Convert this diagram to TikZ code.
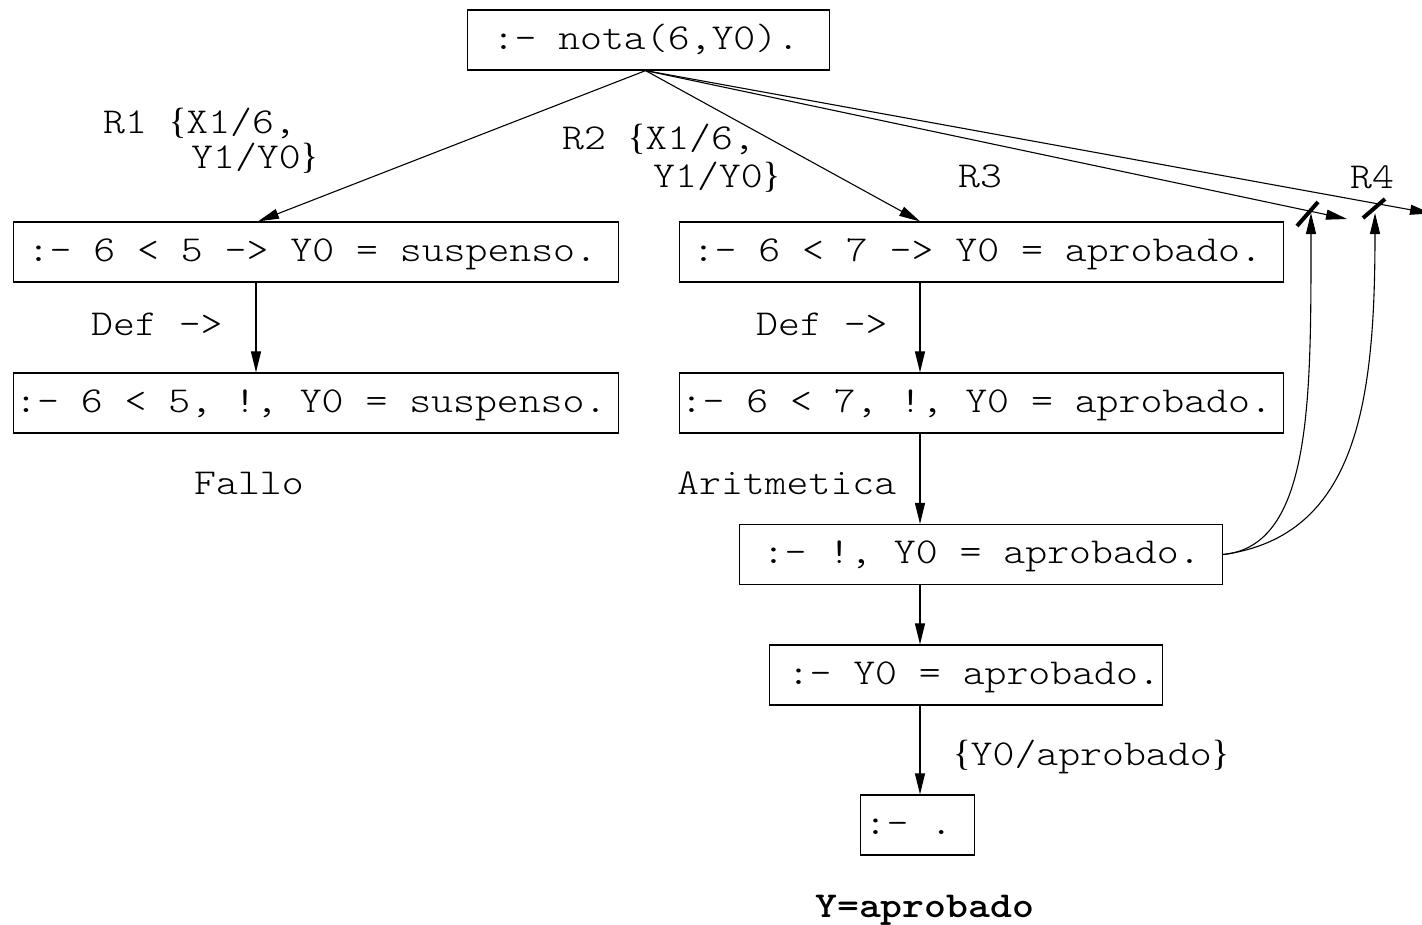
\documentclass[tikz,border=0pt]{standalone}
\usepackage{fontspec}
\setmainfont{lmmonolt10-regular}[Extension=.otf, BoldFont=lmmonolt10-bold, FakeStretch=1.143]
\newfontfamily\brfont{Liberation Serif}
\newcommand{\mylb}{{\brfont\{}}
\newcommand{\myrb}{{\brfont\}}}
\newcommand{\fixsp}{\spaceskip=0pt\xspaceskip=0pt\relax}
\usetikzlibrary{arrows.meta}
\tikzset{
  box/.style={draw, line width=1.2pt, minimum height=60pt, inner xsep=0pt, inner ysep=0pt,
              text height=24pt, text depth=6pt, align=left, anchor=west},
  lbl/.style={inner sep=0pt, anchor=base west},
  arr/.style={line width=1.1pt, -{Triangle[length=21pt,width=10pt]}},
  cut/.style={line width=4pt},
}
\begin{document}
\begin{tikzpicture}[x=1pt,y=-1pt,font=\fontsize{36.5pt}{44pt}\selectfont]
\useasboundingbox (0,0) rectangle (1422,924);

% boxes
\node[box, text width=362pt] (top) at (467,40) {\fixsp\hspace*{25pt}:- nota(6,Y0).};
\node[box, text width=605pt] (B1) at (13,252) {\fixsp\hspace*{14pt}:- 6 < 5 -> Y0 = suspenso.};
\node[box, text width=604pt] (B2) at (679,252) {\fixsp\hspace*{13pt}:- 6 < 7 -> Y0 = aprobado.};
\node[box, text width=605pt] (B3) at (13,403) {\fixsp\hspace*{1.5pt}:- 6 < 5, !, Y0 = suspenso.};
\node[box, text width=604pt] (B4) at (679,403) {\fixsp\hspace*{1pt}:- 6 < 7, !, Y0 = aprobado.};
\node[box, text width=483pt] (B5) at (739,554.5) {\fixsp\hspace*{23pt}:- !, Y0 = aprobado.};
\node[box, text width=393pt] (B6) at (769,675) {\fixsp\hspace*{18pt}:- Y0 = aprobado.};
\node[box, text width=114pt] (B7) at (860,825) {\fixsp\hspace*{4pt}:- .};

% labels
\node[lbl] (r1a) at (103,133) {R1 \mylb X1/6,};
\node[lbl] (r1b) at (191,168) {Y1/Y0\myrb};
\node[lbl] (r2a) at (562,149) {R2 \mylb X1/6,};
\node[lbl] (r2b) at (653,187) {Y1/Y0\myrb};
\node[lbl] (r3) at (958,187) {R3};
\node[lbl] (r4) at (1350,188) {R4};
\node[lbl] (def1) at (91,335) {Def ->};
\node[lbl] (def2) at (756,335) {Def ->};
\node[lbl] (fallo) at (194,494) {Fallo};
\node[lbl] (arit) at (677,494) {Aritmetica};
\node[lbl] (subst) at (953,765) {\mylb Y0/aprobado\myrb};
\node[lbl, font=\fontsize{36.5pt}{44pt}\selectfont\bfseries] (res) at (815,917) {Y=aprobado};

% helper coordinates
\coordinate (cL) at (256,0);
\coordinate (cR) at (920,0);
\coordinate (a1) at (258,0);
\coordinate (t1) at (1347,219);
\coordinate (t2) at (1431,213.5);
\coordinate (u1) at (1311,213);
\coordinate (u2) at (1375,213);
\coordinate (s1a) at (1297,226);
\coordinate (s1b) at (1318,202);
\coordinate (s2a) at (1363,218);
\coordinate (s2b) at (1385,199);

% connectors from the top goal
\draw[arr] ([xshift=-3pt]top.south) -- (B1.north -| a1);
\draw[arr] ([xshift=-3pt]top.south) -- (B2.north -| cR);
\draw[arr] ([xshift=-3pt]top.south) -- (t1);
\draw[arr] ([xshift=-3pt]top.south) -- (t2);

% vertical connectors
\draw[arr] (B1.south -| cL) -- (B3.north -| cL);
\draw[arr] (B2.south -| cR) -- (B4.north -| cR);
\draw[arr] (B4.south -| cR) -- (B5.north -| cR);
\draw[arr] (B5.south -| cR) -- (B6.north -| cR);
\draw[arr] (B6.south -| cR) -- (B7.north -| cR);

% backtracking curves
\draw[arr] (B5.east) .. controls (1312,546) and (1311,400) .. (u1);
\draw[arr] (B5.east) .. controls (1358,536) and (1375,400) .. (u2);

% cut marks
\draw[cut] (s1a) -- (s1b);
\draw[cut] (s2a) -- (s2b);
\end{tikzpicture}
\end{document}
